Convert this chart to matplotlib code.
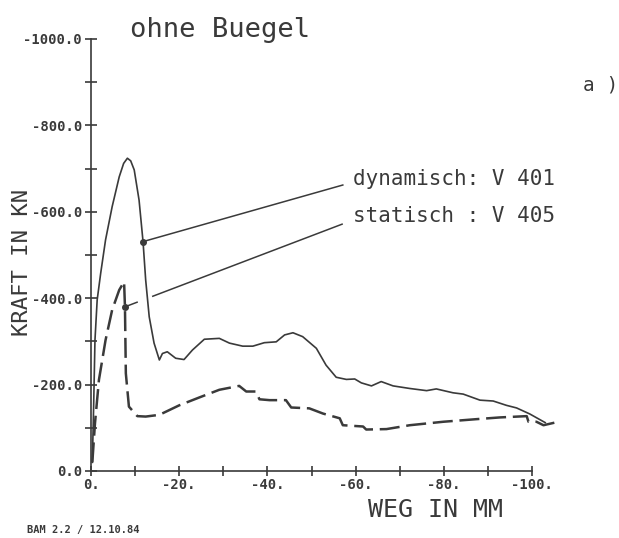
import matplotlib
matplotlib.use("Agg")
import matplotlib.pyplot as plt

# KRAFT (kN) over WEG (mm)
weg_dyn = [-0.3, -0.6, -0.9, -1.4, -2.2, -3.3, -4.8, -6.4, -7.4, -8.25, -9.0, -9.8,
           -10.9, -11.8, -12.4, -13.2, -14.3, -15.5, -16.2, -17.3, -19.2, -21.1,
           -23.0, -25.7, -29.1, -31.4, -34.4, -36.7, -39.3, -42.0, -43.9, -45.8,
           -48.0, -51.1, -53.3, -55.6, -57.9, -59.8, -61.3, -63.6, -65.8, -68.5,
           -72.3, -76.1, -78.3, -82.1, -84.4, -88.2, -91.2, -94.2, -96.5, -99.5,
           -103.0]
kraft_dyn = [-20, -150, -303, -396, -458, -535, -612, -681, -712, -724, -718, -697,
             -627, -531, -442, -357, -296, -257, -272, -276, -261, -258,
             -280, -305, -307, -296, -289, -289, -297, -299, -315, -320,
             -311, -284, -245, -217, -212, -213, -204, -197, -207, -197,
             -191, -186, -190, -181, -178, -164, -162, -152, -146, -132,
             -112]

weg_stat = [-0.3, -0.9, -1.8, -3.3, -4.8, -6.4, -7.5, -7.7, -7.9, -8.6, -10.5,
            -12.4, -15.5, -20.0, -24.5, -29.1, -33.6, -35.2, -37.4, -38.2, -40.5,
            -44.2, -45.4, -49.5, -52.6, -56.4, -57.1, -61.7, -62.4, -67.0, -72.3,
            -79.9, -87.4, -92.7, -98.8, -99.2, -101.0, -102.6, -105.6]
kraft_stat = [-20, -110, -211, -303, -373, -419, -438, -380, -226, -149, -127,
              -126, -130, -152, -170, -188, -197, -184, -184, -166, -164,
              -164, -147, -145, -133, -122, -106, -103, -96, -97, -106,
              -114, -120, -124, -127, -114, -114, -106, -113]

# leader lines: point on curve -> label
dyn_anchor = (-11.8, -531)
stat_anchor = (-7.7, -380)
dyn_label_end = (-57.1, -662)
stat_label_end = (-57.1, -572)

y_ticks = [0, -200, -400, -600, -800, -1000]
y_labels = ["0.0", "-200.0", "-400.0", "-600.0", "-800.0", "-1000.0"]
y_minor = [-100, -300, -500, -700, -900]
x_ticks = [0, -20, -40, -60, -80, -100]
x_labels = ["0.", "-20.", "-40.", "-60.", "-80.", "-100."]
x_minor = [-10, -30, -50, -70, -90]

ink = "#3a3a3a"
mono = "DejaVu Sans Mono"

fig = plt.figure(figsize=(6.19, 5.38), dpi=100)
ax = fig.add_axes([91 / 619, 67 / 538, 441 / 619, 432 / 538])
ax.set_xlim(0, -100)
ax.set_ylim(0, -1000)

for s in ["top", "right"]:
    ax.spines[s].set_visible(False)
for s in ["left", "bottom"]:
    ax.spines[s].set_color(ink)
    ax.spines[s].set_linewidth(1.2)

ax.set_xticks(x_ticks)
ax.set_xticklabels(x_labels)
ax.set_xticks(x_minor, minor=True)
ax.set_yticks(y_ticks)
ax.set_yticklabels(y_labels)
ax.set_yticks(y_minor, minor=True)
ax.tick_params(axis="y", which="both", direction="inout", length=9, width=1.2,
               color=ink, pad=2)
ax.tick_params(axis="x", which="both", direction="inout", length=7, width=1.2,
               color=ink, pad=1.5)
for lab in ax.get_xticklabels() + ax.get_yticklabels():
    lab.set_family(mono)
    lab.set_fontweight("bold")
    lab.set_fontsize(10)
    lab.set_color(ink)

ax.plot(weg_dyn, kraft_dyn, color=ink, lw=1.2, clip_on=False)
ax.plot(weg_stat, kraft_stat, color=ink, lw=1.8, linestyle=(0, (8, 2.7)),
        clip_on=False)

ax.plot([dyn_anchor[0], dyn_label_end[0]], [dyn_anchor[1], dyn_label_end[1]],
        color=ink, lw=1.1, clip_on=False)
ax.plot([stat_anchor[0], stat_label_end[0]], [stat_anchor[1], stat_label_end[1]],
        color=ink, lw=1.1, linestyle=(0, (9, 10, 300, 1)), clip_on=False)
ax.plot(*dyn_anchor, "o", color=ink, ms=4, clip_on=False)
ax.plot(*stat_anchor, "o", color=ink, ms=4, clip_on=False)

ax.text(-59.3, -675, "dynamisch: V 401", family=mono, fontsize=15, color=ink,
        va="center", ha="left")
ax.text(-59.3, -590, "statisch : V 405", family=mono, fontsize=15, color=ink,
        va="center", ha="left")

fig.text(130 / 619, 1 - 30 / 538, "ohne Buegel", family=mono, fontsize=19.5,
         color=ink, va="center", ha="left")
fig.text(583 / 619, 1 - 85 / 538, "a )", family=mono, fontsize=14, color=ink,
         va="center", ha="left")
fig.text(22 / 619, 1 - 262 / 538, "KRAFT IN KN", family=mono, fontsize=16,
         color=ink, va="center", ha="center", rotation=90)
fig.text(435 / 619, 1 - 510 / 538, "WEG IN MM", family=mono, fontsize=18,
         color=ink, va="center", ha="center")
fig.text(27 / 619, 1 - 530 / 538, "BAM 2.2 / 12.10.84", family=mono,
         fontsize=7.5, fontweight="bold", color=ink, va="center", ha="left")

fig.savefig("out.png", dpi=100)
